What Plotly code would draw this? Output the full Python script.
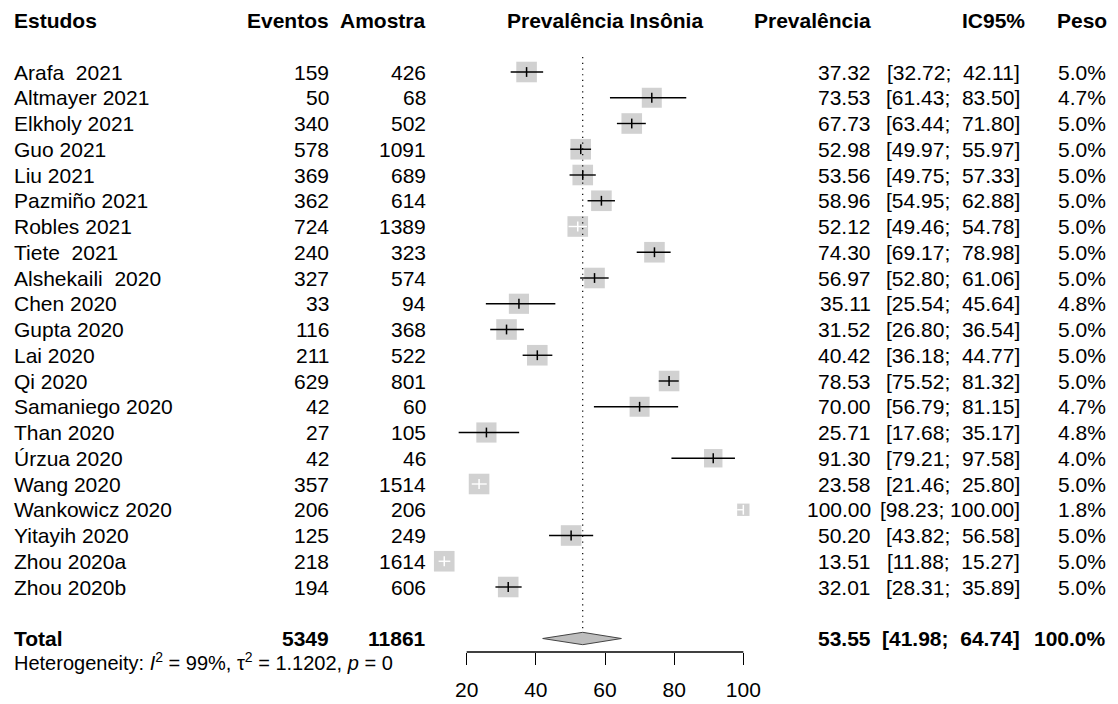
import plotly.graph_objects as go

# ---------------- data ----------------
studies = ["Arafa  2021", "Altmayer 2021", "Elkholy 2021", "Guo 2021", "Liu 2021",
           "Pazmiño 2021", "Robles 2021", "Tiete  2021", "Alshekaili  2020", "Chen 2020",
           "Gupta 2020", "Lai 2020", "Qi 2020", "Samaniego 2020", "Than 2020",
           "Úrzua 2020", "Wang 2020", "Wankowicz 2020", "Yitayih 2020", "Zhou 2020a",
           "Zhou 2020b"]
events = [159, 50, 340, 578, 369, 362, 724, 240, 327, 33, 116, 211, 629, 42, 27, 42,
          357, 206, 125, 218, 194]
sample = [426, 68, 502, 1091, 689, 614, 1389, 323, 574, 94, 368, 522, 801, 60, 105, 46,
          1514, 206, 249, 1614, 606]
prev = [37.32, 73.53, 67.73, 52.98, 53.56, 58.96, 52.12, 74.30, 56.97, 35.11, 31.52,
        40.42, 78.53, 70.00, 25.71, 91.30, 23.58, 100.00, 50.20, 13.51, 32.01]
lower = [32.72, 61.43, 63.44, 49.97, 49.75, 54.95, 49.46, 69.17, 52.80, 25.54, 26.80,
         36.18, 75.52, 56.79, 17.68, 79.21, 21.46, 98.23, 43.82, 11.88, 28.31]
upper = [42.11, 83.50, 71.80, 55.97, 57.33, 62.88, 54.78, 78.98, 61.06, 45.64, 36.54,
         44.77, 81.32, 81.15, 35.17, 97.58, 25.80, 100.00, 56.58, 15.27, 35.89]
weight = [5.0, 4.7, 5.0, 5.0, 5.0, 5.0, 5.0, 5.0, 5.0, 4.8, 5.0, 5.0, 5.0, 4.7, 4.8,
          4.0, 5.0, 1.8, 5.0, 5.0, 5.0]

total_events = 5349
total_sample = 11861
total_est = 53.55
total_lower = 41.98
total_upper = 64.74
total_weight = 100.0
het_text = "Heterogeneity: <i>I</i><sup>2</sup> = 99%, τ<sup>2</sup> = 1.1202, <i>p</i> = 0"

tick_vals = [20, 40, 60, 80, 100]
headers = ["Estudos", "Eventos", "Amostra", "Prevalência Insônia", "Prevalência", "IC95%", "Peso"]

# ---------------- layout constants ----------------
W, H = 1118, 704
XR = [-114.96, 208.35]          # x range over full width
PXU = W / (XR[1] - XR[0])       # px per unit
Y_AX = 652                      # axis line pixel
ROW0, ROWH = 72, 25.75
YR = [1 + (Y_AX - ROW0) / ROWH, 1 - ROW0 / ROWH]
FONT = "Liberation Sans, Arial, sans-serif"
FS = 21
GRAY = "#BEBEBE"
NBSP = "\u00a0"

n = len(studies)
rows = list(range(1, n + 1))
total_row = n + 2
header_row = -1

BOX_MAX = 20.6
box_sizes = [BOX_MAX * (w / max(weight)) ** 0.5 for w in weight]

fig = go.Figure()

# boxes
fig.add_trace(go.Scatter(x=prev, y=rows, mode="markers", cliponaxis=False,
                         marker=dict(symbol="square", size=box_sizes, color=GRAY,
                                     line=dict(width=0)),
                         hoverinfo="skip"))

# CI lines (white if fully inside the box)
inside = []
for p, l, u, s in zip(prev, lower, upper, box_sizes):
    half = s / 2 / PXU
    inside.append((p - l) <= half and (u - p) <= half)

for flag, col in [(False, "black"), (True, "white")]:
    xs, ys = [], []
    for i in range(n):
        if inside[i] == flag:
            xs += [lower[i], upper[i], None]
            ys += [rows[i], rows[i], None]
    fig.add_trace(go.Scatter(x=xs, y=ys, mode="lines", cliponaxis=False,
                             line=dict(color=col, width=1.4), hoverinfo="skip"))

# estimate ticks
fig.add_trace(go.Scatter(x=prev, y=rows, mode="markers", cliponaxis=False,
                         marker=dict(symbol="line-ns", size=7,
                                     line=dict(width=1.5,
                                               color=["white" if f else "black" for f in inside])),
                         hoverinfo="skip"))

# reference dotted line
fig.add_trace(go.Scatter(x=[total_est, total_est], y=[0.42, total_row - 0.4], mode="lines",
                         line=dict(color="black", width=1.2, dash="1.2px,4.5px"),
                         cliponaxis=False, hoverinfo="skip"))

# diamond
dh = 0.24
fig.add_trace(go.Scatter(x=[total_lower, total_est, total_upper, total_est, total_lower],
                         y=[total_row, total_row - dh, total_row, total_row + dh, total_row],
                         mode="lines", fill="toself", fillcolor=GRAY,
                         line=dict(color="#444444", width=1), cliponaxis=False,
                         hoverinfo="skip"))

# axis line from first to last tick
fig.add_shape(type="line", xref="x", yref="paper", x0=min(tick_vals), x1=max(tick_vals),
              y0=1 - Y_AX / H, y1=1 - Y_AX / H, line=dict(color="black", width=1.3))

ann = []


def txt(x_px, y, text, anchor, bold=False, yref="y"):
    ann.append(dict(x=x_px / W, xref="paper", y=y, yref=yref, text=("<b>%s</b>" % text) if bold else text,
                    xanchor=anchor, yanchor="middle", showarrow=False, borderpad=0,
                    font=dict(family=FONT, size=FS, color="black")))


X_STUDY, X_EV, X_N, X_PREV, X_CI, X_W = 13, 330, 427, 872, 1021, 1107

# headers
txt(X_STUDY, header_row, headers[0], "left", True)
txt(X_EV, header_row, headers[1], "right", True)
txt(X_N, header_row, headers[2], "right", True)
ann.append(dict(x=60, xref="x", y=header_row, yref="y", text="<b>%s</b>" % headers[3],
                xanchor="center", yanchor="middle", showarrow=False, borderpad=0,
                font=dict(family=FONT, size=FS, color="black")))
txt(X_PREV, header_row, headers[4], "right", True)
txt(X_CI + 5, header_row, headers[5], "right", True)
txt(X_W + 1, header_row, headers[6], "right", True)


def ci_str(l, u):
    return ("[%5.2f; %6.2f]" % (l, u)).replace(" ", NBSP)


for i in range(n):
    r = rows[i]
    txt(X_STUDY, r, studies[i].replace(" ", NBSP), "left")
    txt(X_EV, r, str(events[i]), "right")
    txt(X_N, r, str(sample[i]), "right")
    txt(X_PREV, r, "%.2f" % prev[i], "right")
    txt(X_CI, r, ci_str(lower[i], upper[i]), "right")
    txt(X_W, r, "%.1f%%" % weight[i], "right")

# total row
txt(X_STUDY, total_row, "Total", "left", True)
txt(X_EV, total_row, str(total_events), "right", True)
txt(X_N, total_row, str(total_sample), "right", True)
txt(X_PREV, total_row, "%.2f" % total_est, "right", True)
txt(X_CI, total_row, ci_str(total_lower, total_upper), "right", True)
txt(X_W, total_row, "%.1f%%" % total_weight, "right", True)

# heterogeneity
ann.append(dict(x=X_STUDY / W, xref="paper", y=1 - 661 / H, yref="paper", text=het_text,
                xanchor="left", yanchor="middle", showarrow=False, borderpad=0,
                font=dict(family=FONT, size=FS - 1, color="black")))

fig.update_layout(
    width=W, height=H, autosize=False,
    margin=dict(l=0, r=0, t=0, b=0, pad=0),
    paper_bgcolor="white", plot_bgcolor="white",
    showlegend=False,
    annotations=ann,
    xaxis=dict(range=XR, domain=[0, 1], showgrid=False, zeroline=False, showline=False,
               tickmode="array", tickvals=tick_vals, ticks="outside", ticklen=12,
               tickwidth=1.3, tickcolor="black", ticklabelstandoff=7,
               tickfont=dict(family=FONT, size=FS, color="black"), fixedrange=True),
    yaxis=dict(range=YR, domain=[1 - Y_AX / H, 1], visible=False, fixedrange=True),
)

fig.write_html("out.html")
